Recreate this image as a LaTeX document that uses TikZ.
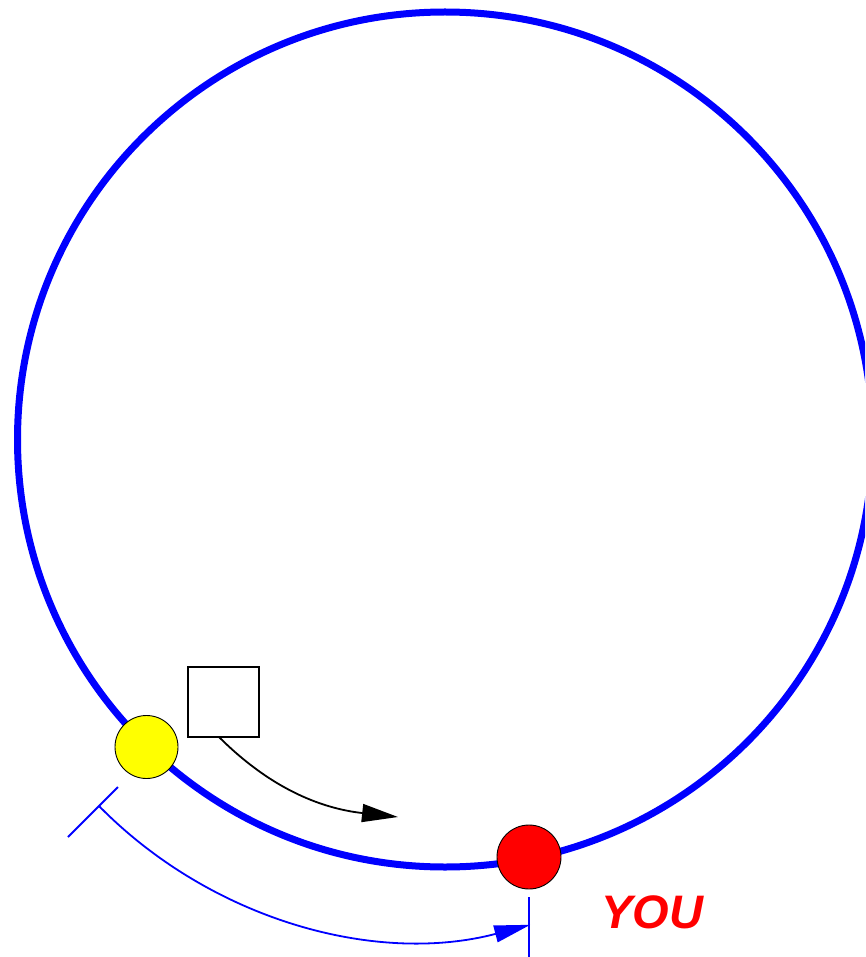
\documentclass[tikz,border=0pt]{standalone}
\usepackage{fontspec}
\setmainfont{Liberation Sans}
\usetikzlibrary{arrows.meta}
\begin{document}
\begin{tikzpicture}[x=1pt,y=-1pt,
  ring/.style={draw={rgb,255:red,0;green,0;blue,255},line width=7pt},
  ball/.style={circle,draw=black,line width=0.9pt,inner sep=0pt},
  dimline/.style={draw={rgb,255:red,0;green,0;blue,255},line width=1.8pt},
  boxnode/.style={draw=black,line width=1.8pt,minimum width=71pt,minimum height=70pt,inner sep=0pt,fill=white}
]
\definecolor{pblue}{RGB}{0,0,255}
\definecolor{pred}{RGB}{255,0,0}
\definecolor{pyellow}{RGB}{255,255,0}
\useasboundingbox (0,0) rectangle (865,957);
\clip (0,0) rectangle (865,957);
\fill[white] (0,0) rectangle (865,957);
% main orbit
\coordinate (ctr) at (445,439.5);
\draw[ring] (ctr) circle[radius=427.5];
% square and black arrow
\node[boxnode] (sq) at (223.5,702) {};
\coordinate (bstart) at (219,737);
\coordinate (btip) at (398,817);
\draw[line width=1.8pt,-{Triangle[length=36pt,width=18pt]}] (bstart) .. controls (268.5,786.5) and (318.5,808.2) .. (btip);
% dimension lines
\coordinate (tA1) at (68,837);
\coordinate (tA2) at (118,787);
\coordinate (tAm) at (99,806);
\coordinate (tB1) at (529,897);
\coordinate (tB2) at (529,960);
\draw[dimline] (tA1) -- (tA2);
\draw[dimline] (tB1) -- (tB2);
\draw[dimline,-{Triangle[length=36pt,width=17pt]}] (tAm) arc[start angle=135.5,end angle=75.3,radius=446];
% balls
\node[ball,fill=pyellow,minimum size=63pt] (yel) at (146.5,747) {};
\node[ball,fill=pred,minimum size=64pt] (you) at (529,857) {};
% label
\node[anchor=base west,inner sep=0pt,text=pred,font=\fontsize{47}{47}\selectfont\bfseries\itshape] (lbl) at (601,928) {YOU};
\end{tikzpicture}
\end{document}
